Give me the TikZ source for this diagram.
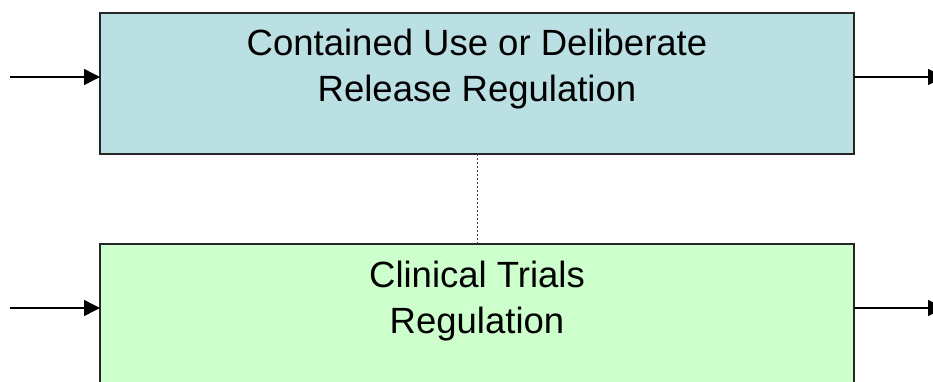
\documentclass[tikz,border=0pt]{standalone}
\usepackage{fontspec}
\setmainfont{Liberation Sans}
\usepackage{xcolor}
\usetikzlibrary{positioning,calc,arrows.meta}

\definecolor{cudrfill}{HTML}{BBE0E3}
\definecolor{ctfill}{HTML}{CCFFCC}

\begin{document}
\begin{tikzpicture}[x=1pt, y=-1pt,
  regbox/.style={draw=black!85, line width=1.5pt, minimum width=754pt, minimum height=141pt, inner sep=0pt, outer sep=0pt},
  regtext/.style={align=center, inner sep=0pt, outer sep=0pt, font=\fontsize{36.5}{46}\selectfont},
  flow/.style={line width=1.5pt, -{Triangle[length=16pt,width=16pt]}}]
\useasboundingbox (0,0) rectangle (933,381);
\clip (0,0) rectangle (933,381);
\node[regbox, fill=cudrfill] (cudr) at (477,83.5) {};
\node[regbox, fill=ctfill, below=90pt of cudr] (ctr) {};
\node[regtext, below=16pt of cudr.north] (cudrtext) {Contained Use or Deliberate\\Release Regulation};
\node[regtext, below=17pt of ctr.north] (ctrtext) {Clinical Trials\\Regulation};
\coordinate (cudrin) at (10,77);
\coordinate (cudrout) at (944,77);
\coordinate (ctrin) at (10,308);
\coordinate (ctrout) at (944,308);
\draw[flow] (cudrin) -- (cudrin -| cudr.west);
\draw[flow] (cudrin -| cudr.east) -- (cudrout);
\draw[flow] (ctrin) -- (ctrin -| ctr.west);
\draw[flow] (ctrin -| ctr.east) -- (ctrout);
\draw[black!75, line width=1pt, dash pattern=on 2pt off 2pt] (cudr.south) -- (ctr.north);
\end{tikzpicture}
\end{document}
